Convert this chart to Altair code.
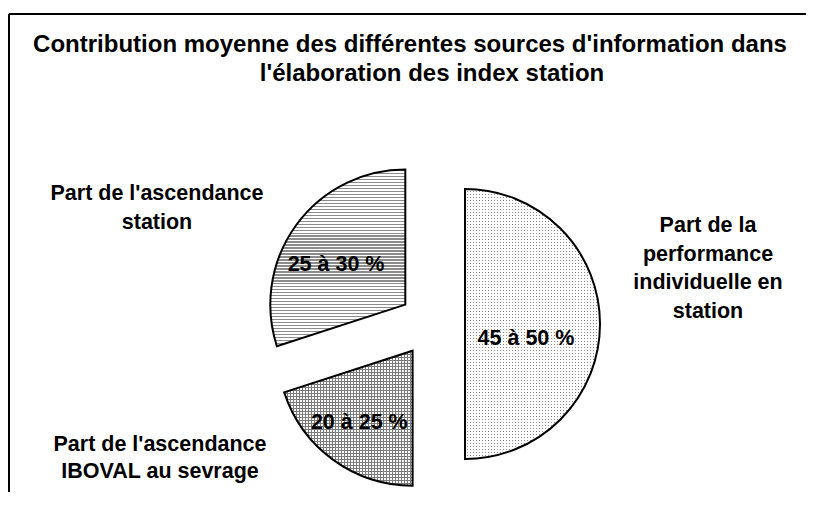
import math
import altair as alt
import pandas as pd

# ---------------- data ----------------
sources = [
    "Part de la\nperformance\nindividuelle en\nstation",
    "Part de l'ascendance\nIBOVAL au sevrage",
    "Part de l'ascendance\nstation",
]
shares = [50, 20, 30]
share_labels = ["45 à 50 %", "20 à 25 %", "25 à 30 %"]
slice_order = [0, 1, 2]
title_lines = [
    "Contribution moyenne des différentes sources d'information dans",
    "l'élaboration des index station",
]

# ---------------- layout (not data) ----------------
W, H = 799, 478
CX, CY = 423, 310
R = 135
EXPLODE = 33
FONT = "Liberation Sans"
LABEL_SIZE = 21.5
TITLE_SIZE = 24
# anchor (x, top-y) of each outside category label, in plot coordinates
label_anchor = [(699, 201), (151, 420), (148, 169)]
label_line_h = [28.5, 26.5, 29]
title_anchor = [(401, 19), (423, 48)]

df = pd.DataFrame({"source": sources, "share": shares,
                   "label": share_labels, "order": slice_order})

base = (
    alt.Chart(df)
    .transform_window(cum="sum(share)", sort=[alt.SortField("order")], frame=[None, 0])
    .transform_calculate(
        start="datum.cum - datum.share",
        ang="(datum.cum - datum.share / 2) / 100 * 2 * PI",
    )
    .transform_calculate(
        px=f"{CX} + {EXPLODE} * sin(datum.ang)",
        py=f"{CY} - {EXPLODE} * cos(datum.ang)",
    )
    .transform_calculate(
        lx="datum.px + 72 * sin(datum.ang) - 11",
        ly="datum.py - 79 * cos(datum.ang) + 4.3 * sin(datum.ang) + 10.7",
    )
)

theta_scale = alt.Scale(domain=[0, 100], range=[0, 2 * math.pi])
arc_enc = dict(
    theta=alt.Theta("start:Q", scale=theta_scale),
    theta2="cum:Q",
    x=alt.X("px:Q", scale=None, axis=None),
    y=alt.Y("py:Q", scale=None, axis=None),
)


def stripes(n, line_color, gap_color, frac, along_x=False):
    stops = []
    for k in range(n):
        a = k / n
        b = (k + frac) / n
        c = (k + 1) / n
        stops += [
            alt.GradientStop(offset=a, color=line_color),
            alt.GradientStop(offset=b, color=line_color),
            alt.GradientStop(offset=b, color=gap_color),
            alt.GradientStop(offset=c, color=gap_color),
        ]
    if along_x:
        return alt.LinearGradient(gradient="linear", stops=stops, x1=0, x2=1, y1=0, y2=0)
    return alt.LinearGradient(gradient="linear", stops=stops, x1=0, x2=0, y1=0, y2=1)


CLEAR = "rgba(255,255,255,0)"


def slice_layer(i, fill):
    return base.transform_filter(alt.datum.order == i).mark_arc(
        outerRadius=R, fill=fill, strokeWidth=0
    ).encode(**arc_enc)


layers = []
# slice 0 : dotted (50 %)
layers.append(slice_layer(0, "#8a8a8a"))
layers.append(slice_layer(0, stripes(90, "white", CLEAR, 0.64)))
layers.append(slice_layer(0, stripes(45, "white", CLEAR, 0.64, along_x=True)))
# slice 1 : grid (20 %)
layers.append(slice_layer(1, stripes(45, "#7a7a7a", "white", 0.36)))
layers.append(slice_layer(1, stripes(43, "#7a7a7a", CLEAR, 0.36, along_x=True)))
# slice 2 : horizontal lines (30 %)
layers.append(slice_layer(2, stripes(59, "#8c8c8c", "white", 0.36)))

outline = base.mark_arc(
    outerRadius=R, fill="white", fillOpacity=0, stroke="black", strokeWidth=2
).encode(**arc_enc)
layers.append(outline)

pct_text = base.mark_text(
    font=FONT, fontSize=LABEL_SIZE, fontWeight="bold", color="black",
    align="center", baseline="middle",
).encode(
    x=alt.X("lx:Q", scale=None, axis=None),
    y=alt.Y("ly:Q", scale=None, axis=None),
    text="label:N",
)
layers.append(pct_text)

for i in range(len(sources)):
    ax, ay = label_anchor[i]
    layers.append(
        alt.Chart(df)
        .transform_filter(alt.datum.order == i)
        .mark_text(
            font=FONT, fontSize=LABEL_SIZE, fontWeight="bold", color="black",
            align="center", baseline="top", lineBreak="\n",
            lineHeight=label_line_h[i],
        )
        .encode(x=alt.value(ax), y=alt.value(ay), text="source:N")
    )

title_df = pd.DataFrame({"t": title_lines, "line": [0, 1]})
for j in range(len(title_lines)):
    tx, ty = title_anchor[j]
    layers.append(
        alt.Chart(title_df)
        .transform_filter(alt.datum.line == j)
        .mark_text(font=FONT, fontSize=TITLE_SIZE, fontWeight="bold", color="black",
                   align="center", baseline="top")
        .encode(x=alt.value(tx), y=alt.value(ty), text="t:N")
    )

# frame (left and top edges visible)
layers.append(
    alt.Chart(title_df).mark_rule(color="black", strokeWidth=2)
    .encode(x=alt.value(0), x2=alt.value(W - 2), y=alt.value(0))
)
layers.append(
    alt.Chart(title_df).mark_rule(color="black", strokeWidth=2)
    .encode(x=alt.value(0), y=alt.value(0), y2=alt.value(H + 20))
)

chart = (
    alt.layer(*layers)
    .properties(
        width=W, height=H,
        padding={"left": 1, "top": 6, "right": 0, "bottom": 0},
        autosize=alt.AutoSizeParams(type="none"),
    )
    .configure_view(stroke=None)
)

chart.save("out.html", embed_options={"renderer": "svg", "actions": False})
